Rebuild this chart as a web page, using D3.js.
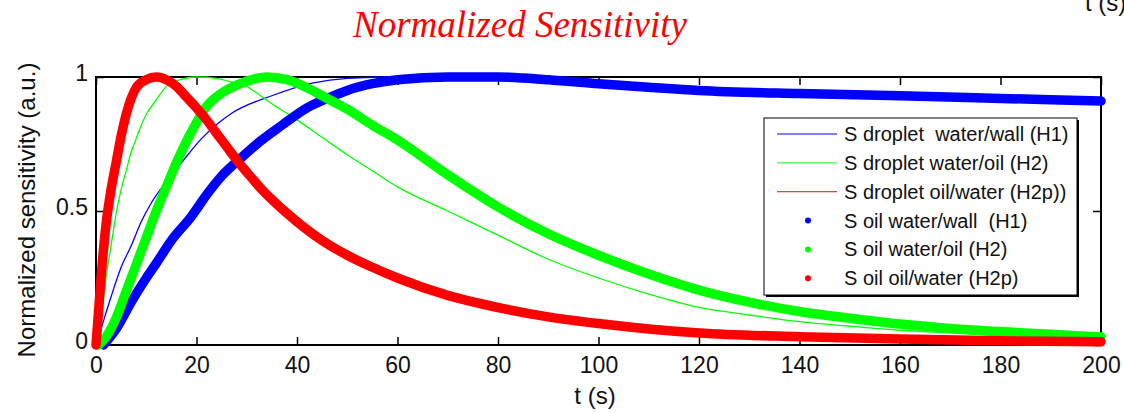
<!DOCTYPE html>
<html>
<head>
<meta charset="utf-8">
<script src="https://cdn.jsdelivr.net/npm/d3@7"></script>
<style>
  body { margin: 0; background: #fff; }
  svg { display: block; }
  text { font-family: "Liberation Sans", Arial, sans-serif; fill: #111; }
</style>
</head>
<body>
<svg id="chart" width="1124" height="413"></svg>
<script>
// thin lines (droplet)
var tDropletH1 = [0, 1, 3, 5, 7, 9, 11, 14, 17, 21, 27, 35, 43, 50, 60, 70, 80, 90, 100, 110, 120, 140, 160, 180, 200];
var sDropletH1 = [0, 0.06, 0.18, 0.29, 0.37, 0.46, 0.53, 0.61, 0.68, 0.77, 0.865, 0.93, 0.977, 0.995, 1.0, 1.0, 1.0, 0.99, 0.975, 0.962, 0.95, 0.938, 0.93, 0.92, 0.91];

var tDropletH2 = [0, 1, 2, 3, 4, 5, 6, 7, 8, 9, 10, 12, 14, 16, 20, 24, 28, 30, 32, 35, 40, 45, 50, 55, 60, 70, 80, 90, 100, 110, 120, 130, 140, 150, 160, 170, 180, 190, 200];
var sDropletH2 = [0, 0.1, 0.25, 0.37, 0.49, 0.58, 0.65, 0.72, 0.77, 0.82, 0.86, 0.915, 0.965, 0.985, 1.0, 0.995, 0.975, 0.965, 0.94, 0.9, 0.84, 0.775, 0.71, 0.65, 0.59, 0.5, 0.41, 0.32, 0.25, 0.19, 0.14, 0.112, 0.087, 0.07, 0.055, 0.045, 0.035, 0.027, 0.02];

var tDropletH2p = [0, 1, 2, 3, 4, 5, 6, 7, 8, 10, 12, 14, 16, 18, 20, 22, 24, 26, 28, 30, 33, 36, 40, 45, 50, 55, 60, 70, 80, 90, 100, 110, 120, 140, 160, 180, 200];
var sDropletH2p = [0, 0.25, 0.45, 0.58, 0.68, 0.78, 0.86, 0.92, 0.96, 0.99, 1.0, 0.99, 0.965, 0.925, 0.885, 0.84, 0.79, 0.74, 0.69, 0.645, 0.58, 0.525, 0.46, 0.39, 0.335, 0.29, 0.25, 0.185, 0.14, 0.105, 0.08, 0.06, 0.045, 0.031, 0.022, 0.016, 0.012];

// thick dotted (oil)
var tOilH1 = [1.5, 4, 7, 10, 12, 15, 19, 22, 25, 29, 33, 37, 42, 46, 50, 55, 60, 70, 80, 90, 100, 110, 120, 140, 160, 180, 200];
var sOilH1 = [0, 0.06, 0.16, 0.25, 0.305, 0.39, 0.48, 0.56, 0.63, 0.7, 0.765, 0.82, 0.885, 0.92, 0.95, 0.975, 0.99, 1.0, 1.0, 0.99, 0.975, 0.962, 0.95, 0.938, 0.93, 0.92, 0.91];

var tOilH2 = [0.5, 2, 4, 6, 8, 10, 12, 14, 16, 18, 20, 22, 25, 28, 31, 34, 38, 42, 46, 50, 55, 60, 70, 80, 90, 100, 110, 120, 130, 140, 150, 160, 170, 180, 190, 200];
var sOilH2 = [0, 0.03, 0.1, 0.2, 0.3, 0.4, 0.5, 0.59, 0.68, 0.76, 0.83, 0.89, 0.94, 0.97, 0.99, 1.0, 0.99, 0.96, 0.92, 0.88, 0.82, 0.765, 0.635, 0.515, 0.415, 0.335, 0.265, 0.205, 0.16, 0.125, 0.1, 0.078, 0.062, 0.05, 0.04, 0.03];

var tOilH2p = [0, 1, 2, 3, 4, 5, 6, 7, 8, 10, 12, 14, 16, 18, 20, 22, 24, 26, 28, 30, 33, 36, 40, 45, 50, 55, 60, 70, 80, 90, 100, 110, 120, 140, 160, 180, 200];
var sOilH2p = [0, 0.25, 0.45, 0.58, 0.68, 0.78, 0.86, 0.92, 0.96, 0.99, 1.0, 0.99, 0.965, 0.925, 0.885, 0.84, 0.79, 0.74, 0.69, 0.645, 0.58, 0.525, 0.46, 0.39, 0.335, 0.29, 0.25, 0.185, 0.14, 0.105, 0.08, 0.06, 0.045, 0.031, 0.022, 0.016, 0.012];

var xTicks = [0, 20, 40, 60, 80, 100, 120, 140, 160, 180, 200];
var yTicks = [0, 0.5, 1];
var yTickLabels = ["0", "0.5", "1"];

var legendLabels = ["S droplet  water/wall (H1)", "S droplet water/oil (H2)", "S droplet oil/water (H2p))",
                    "S oil water/wall  (H1)", "S oil water/oil (H2)", "S oil oil/water (H2p)"];

var svg = d3.select("#chart");
const plot = {left: 96, right: 1101, top: 77, bottom: 345};

var xScale = d3.scaleLinear().domain([0, 200]).range([plot.left, plot.right]);
var yScale = d3.scaleLinear().domain([0, 1]).range([plot.bottom, plot.top]);

// frame
svg.append("rect")
    .attr("x", plot.left).attr("y", plot.top)
    .attr("width", plot.right - plot.left).attr("height", plot.bottom - plot.top)
    .attr("fill", "none").attr("stroke", "#000").attr("stroke-width", 2);

var xAxis = svg.append("g")
    .attr("transform", "translate(0," + plot.bottom + ")")
    .call(d3.axisBottom(xScale).tickValues(xTicks).tickSize(-8).tickSizeOuter(0).tickPadding(12));
xAxis.selectAll("text").style("font-size", "23px");

svg.append("g")
    .attr("transform", "translate(0," + plot.top + ")")
    .call(d3.axisTop(xScale).tickValues(xTicks).tickSize(-8).tickSizeOuter(0).tickFormat(""));

var yAxis = svg.append("g")
    .attr("transform", "translate(" + plot.left + ",0)")
    .call(d3.axisLeft(yScale).tickValues(yTicks).tickSize(-8).tickSizeOuter(0).tickPadding(8)
        .tickFormat((d, i) => yTickLabels[i]));
yAxis.selectAll("text").style("font-size", "23px").attr("dy", "0.17em");

svg.append("g")
    .attr("transform", "translate(" + plot.right + ",0)")
    .call(d3.axisRight(yScale).tickValues(yTicks).tickSize(-8).tickSizeOuter(0).tickFormat(""));

svg.selectAll(".domain").remove();
svg.selectAll(".tick line").attr("stroke", "#000").attr("stroke-width", 1.5);
svg.selectAll(".tick text").attr("fill", "#111").style("font-family", "'Liberation Sans', Arial, sans-serif");

// series
var line = d3.line()
    .x(d => xScale(d[0]))
    .y(d => yScale(d[1]))
    .curve(d3.curveMonotoneX);

function pairs(ts, vs) {
    return ts.map((t, i) => [t, vs[i]]);
}

var series = [
    {t: tDropletH1, s: sDropletH1, color: "#0000ff", width: 1.3},
    {t: tDropletH2, s: sDropletH2, color: "#00ff00", width: 1.3},
    {t: tDropletH2p, s: sDropletH2p, color: "#ff0000", width: 1.3},
    {t: tOilH1, s: sOilH1, color: "#0000ff", width: 9.5},
    {t: tOilH2, s: sOilH2, color: "#00ff00", width: 9.5},
    {t: tOilH2p, s: sOilH2p, color: "#ff0000", width: 9.5}
];

svg.append("g").selectAll("path")
    .data(series).enter()
    .append("path")
    .attr("d", d => line(pairs(d.t, d.s)))
    .attr("fill", "none")
    .attr("stroke", d => d.color)
    .attr("stroke-width", d => d.width)
    .attr("stroke-linejoin", "round")
    .attr("stroke-linecap", "round");

// legend
var legend = svg.append("g");
legend.append("rect")
    .attr("x", 764).attr("y", 118).attr("width", 313).attr("height", 177)
    .attr("fill", "#fff").attr("stroke", "#000").attr("stroke-width", 1);
legend.append("path")
    .attr("d", "M1078,120V296H766")
    .attr("fill", "none").attr("stroke", "#000").attr("stroke-width", 2);

var legendY = d3.scaleLinear().domain([0, 5]).range([134, 278.3]);
var rows = legend.selectAll("g.row")
    .data(series).enter()
    .append("g").classed("row", true)
    .attr("transform", (d, i) => "translate(0," + legendY(i) + ")");

rows.filter((d, i) => i < 3).append("line")
    .attr("x1", 777).attr("x2", 837).attr("y1", 0).attr("y2", 0)
    .attr("stroke", d => d.color).attr("stroke-width", 1);
rows.filter((d, i) => i >= 3).append("circle")
    .attr("cx", 808).attr("cy", 0).attr("r", 3)
    .attr("fill", d => d.color);
rows.append("text")
    .attr("x", 844).attr("y", 0).attr("dy", "0.35em")
    .style("font-size", "20px").style("white-space", "pre")
    .text((d, i) => legendLabels[i]);

// labels
svg.append("text")
    .attr("x", 520).attr("y", 37)
    .attr("text-anchor", "middle")
    .style("font-family", "'Liberation Serif', 'Times New Roman', serif")
    .style("font-style", "italic")
    .style("font-size", "37px")
    .style("fill", "#ff0000")
    .text("Normalized Sensitivity");

svg.append("text")
    .attr("transform", "translate(35,210) rotate(-90)")
    .attr("text-anchor", "middle")
    .style("font-size", "24px")
    .text("Normalized sensitivity (a.u.)");

svg.append("text")
    .attr("x", 595).attr("y", 404)
    .attr("text-anchor", "middle")
    .style("font-size", "24px")
    .text("t (s)");

// leftover label from the panel above, cut by the top edge as in the source
svg.append("text")
    .attr("x", 1085).attr("y", 11)
    .style("font-size", "24px")
    .text("t (s)");
</script>
</body>
</html>
